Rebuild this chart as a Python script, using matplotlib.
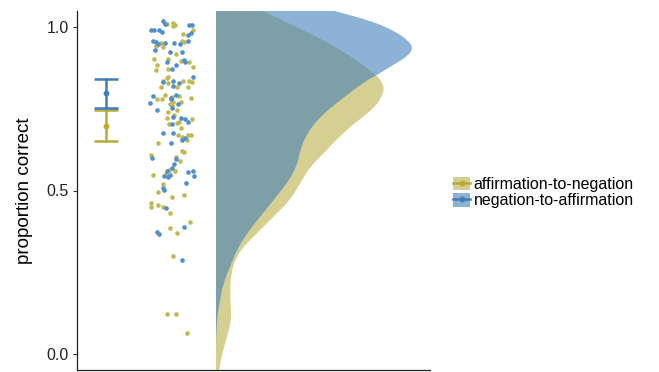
import matplotlib
matplotlib.use("Agg")
import matplotlib.pyplot as plt
from matplotlib.lines import Line2D
from matplotlib.patches import Patch, PathPatch
from matplotlib.path import Path
import numpy as np

plt.rcParams["font.family"] = ["Liberation Sans", "DejaVu Sans"]

conditions = ["affirmation-to-negation", "negation-to-affirmation"]
fill_colors = ["#B9B148", "#427FB9"]
point_colors = ["#C0B955", "#4F8FCB"]
bar_colors = ["#B4AC37", "#3F7DB4"]

# per-participant proportion correct, with the horizontal jitter used for the strip
aff_y = [1.011, 1.013, 1.003, 1.006, 0.993, 0.981, 0.942, 0.952, 0.958, 0.955,
         0.940, 0.904, 0.904, 0.919, 0.897, 0.894, 0.879, 0.884, 0.868, 0.873,
         0.836, 0.846, 0.828, 0.834, 0.835, 0.831, 0.817, 0.817, 0.817, 0.848,
         0.779, 0.779, 0.794, 0.787, 0.791, 0.771, 0.766, 0.771, 0.782, 0.741,
         0.758, 0.746, 0.731, 0.723, 0.720, 0.703, 0.707, 0.710, 0.693, 0.669,
         0.664, 0.669, 0.671, 0.646, 0.654, 0.620, 0.618, 0.608, 0.603, 0.590,
         0.562, 0.550, 0.559, 0.547, 0.521, 0.496, 0.463, 0.450, 0.455, 0.450,
         0.481, 0.485, 0.430, 0.404, 0.384, 0.370, 0.299, 0.123, 0.123, 0.064]
aff_x = [0.897, 0.957, 0.963, 0.980, 1.163, 1.060, 0.787, 0.840, 1.050, 1.070,
         0.863, 0.773, 0.907, 0.990, 1.040, 1.123, 1.157, 0.797, 0.790, 0.913,
         0.863, 0.897, 0.913, 1.057, 1.120, 1.153, 0.840, 0.997, 1.113, 0.907,
         0.797, 0.847, 0.880, 0.947, 1.023, 1.040, 0.930, 0.963, 1.137, 0.913,
         0.947, 1.003, 0.973, 0.897, 1.147, 0.923, 0.997, 1.017, 1.043, 1.013,
         1.047, 1.113, 1.140, 0.813, 1.097, 1.047, 1.070, 0.740, 0.990, 1.030,
         0.917, 0.887, 0.983, 0.763, 0.863, 0.813, 0.740, 0.737, 0.813, 0.857,
         0.947, 1.073, 0.933, 1.130, 0.930, 1.003, 0.963, 0.903, 0.987, 1.103]

neg_y = [1.018, 1.009, 1.006, 1.008, 0.993, 0.993, 0.991, 0.986, 0.984, 0.976,
         0.958, 0.955, 0.950, 0.952, 0.953, 0.950, 0.958, 0.930, 0.924, 0.894,
         0.924, 0.899, 0.893, 0.873, 0.884, 0.831, 0.836, 0.830, 0.820, 0.848,
         0.790, 0.768, 0.784, 0.779, 0.792, 0.766, 0.746, 0.753, 0.726, 0.723,
         0.720, 0.705, 0.710, 0.677, 0.677, 0.647, 0.654, 0.661, 0.600, 0.595,
         0.581, 0.569, 0.560, 0.549, 0.544, 0.542, 0.557, 0.559, 0.545, 0.523,
         0.508, 0.501, 0.445, 0.389, 0.374, 0.368, 0.286]
neg_x = [0.863, 0.880, 1.120, 1.147, 0.740, 0.770, 0.823, 0.853, 1.137, 1.113,
         0.757, 0.790, 0.813, 0.880, 0.970, 1.033, 1.107, 0.780, 0.930, 0.897,
         1.047, 1.070, 1.083, 0.950, 0.987, 0.857, 0.963, 1.023, 0.957, 1.157,
         0.757, 0.730, 0.940, 0.940, 0.990, 1.013, 0.797, 0.947, 0.957, 1.040,
         1.083, 0.947, 1.107, 0.963, 0.860, 0.943, 1.050, 1.083, 0.750, 0.990,
         0.970, 0.947, 0.903, 0.927, 0.873, 0.913, 1.113, 1.157, 1.173, 1.090,
         0.857, 0.873, 0.890, 1.073, 0.797, 0.823, 1.050]

# condition means with interval bounds
means = [0.699, 0.799]
lower = [0.651, 0.753]
upper = [0.748, 0.842]

# half-violin density profiles (scaled width at each proportion level)
aff_dens_y = [1.09, 1.049, 1.001, 0.950, 0.899, 0.853, 0.833, 0.812, 0.787, 0.756,
              0.726, 0.695, 0.654, 0.613, 0.572, 0.521, 0.470, 0.419, 0.368, 0.328,
              0.287, 0.246, 0.195, 0.144, 0.103, 0.062, 0.011, -0.060]
aff_dens_w = [0.20, 0.473, 0.807, 1.140, 1.407, 1.607, 1.657, 1.683, 1.657, 1.590,
              1.473, 1.340, 1.200, 1.073, 0.940, 0.840, 0.740, 0.573, 0.407, 0.273,
              0.190, 0.153, 0.140, 0.147, 0.153, 0.120, 0.070, 0.025]
neg_dens_y = [1.09, 1.049, 1.021, 0.991, 0.960, 0.935, 0.909, 0.879, 0.853, 0.838,
              0.777, 0.726, 0.674, 0.623, 0.572, 0.521, 0.470, 0.419, 0.368, 0.317,
              0.266, 0.215, 0.164, 0.113, 0.062, 0.030]
neg_dens_w = [0.75, 1.190, 1.540, 1.773, 1.923, 1.973, 1.907, 1.740, 1.607, 1.507,
              1.240, 1.040, 0.907, 0.840, 0.807, 0.707, 0.573, 0.440, 0.307, 0.207,
              0.140, 0.073, 0.040, 0.013, 0.003, 0.0]

BAR_X = 0.29
CAP_HALF = 0.123
VIOLIN_X = 1.39


def half_violin(ax, dens_y, dens_w, base_x, color):
    """Flat-sided violin: outer edge drawn as a smoothed curve through the profile."""
    pts = np.column_stack([base_x + np.asarray(dens_w), np.asarray(dens_y)])
    verts = [(base_x, pts[0, 1]), tuple(pts[0]), tuple((pts[0] + pts[1]) / 2)]
    codes = [Path.MOVETO, Path.LINETO, Path.LINETO]
    for i in range(1, len(pts) - 1):
        verts += [tuple(pts[i]), tuple((pts[i] + pts[i + 1]) / 2)]
        codes += [Path.CURVE3, Path.CURVE3]
    verts += [tuple(pts[-1]), (base_x, pts[-1, 1]), (base_x, pts[0, 1])]
    codes += [Path.LINETO, Path.LINETO, Path.CLOSEPOLY]
    ax.add_patch(PathPatch(Path(verts, codes), facecolor=color, alpha=0.6, lw=0))


fig = plt.figure(figsize=(6.59, 3.72), dpi=100)
ax = fig.add_axes([77 / 659, 2 / 372, 353 / 659, 359 / 372])

# olive first, blue drawn over it
half_violin(ax, aff_dens_y, aff_dens_w, VIOLIN_X, fill_colors[0])
half_violin(ax, neg_dens_y, neg_dens_w, VIOLIN_X, fill_colors[1])

# jittered raw points
ax.scatter(aff_x, aff_y, s=11, color=point_colors[0], lw=0, zorder=3)
ax.scatter(neg_x, neg_y, s=11, color=point_colors[1], lw=0, zorder=3)

# mean and interval
for i in range(2):
    col = bar_colors[i]
    ax.plot([BAR_X, BAR_X], [lower[i], upper[i]], color=col, lw=1.8, zorder=4)
    for v in (lower[i], upper[i]):
        ax.plot([BAR_X - CAP_HALF, BAR_X + CAP_HALF], [v, v], color=col, lw=1.8,
                zorder=4, solid_capstyle="butt")
    ax.plot(BAR_X, means[i], "o", color=col, ms=3.2, zorder=5)

ax.set_xlim(0, 3.53)
ax.set_ylim(-0.05, 1.05)
ax.set_yticks([0.0, 0.5, 1.0])
ax.set_yticklabels(["0.0", "0.5", "1.0"])
ax.set_xticks([])
ax.tick_params(axis="y", length=3, width=0.8, pad=3, labelsize=11.5,
               labelcolor="#222222", color="#333333")
for side in ("top", "right"):
    ax.spines[side].set_visible(False)
for side in ("left", "bottom"):
    ax.spines[side].set_linewidth(0.9)
    ax.spines[side].set_color("#222222")
ax.set_ylabel("proportion correct", fontsize=13.5, labelpad=10)

handles = []
for i in range(2):
    box = Patch(facecolor=fill_colors[i], alpha=0.6, lw=0)
    glyph = Line2D([], [], color=bar_colors[i], lw=1.8, marker="o", ms=3.2)
    handles.append((box, glyph))
fig.legend(handles, conditions, loc="center left", bbox_to_anchor=(0.687, 0.482),
           frameon=False, fontsize=11.5, handlelength=1.1, handleheight=0.9,
           handletextpad=0.2, labelspacing=0.08, borderpad=0, borderaxespad=0)

fig.savefig("out.png", dpi=100)
